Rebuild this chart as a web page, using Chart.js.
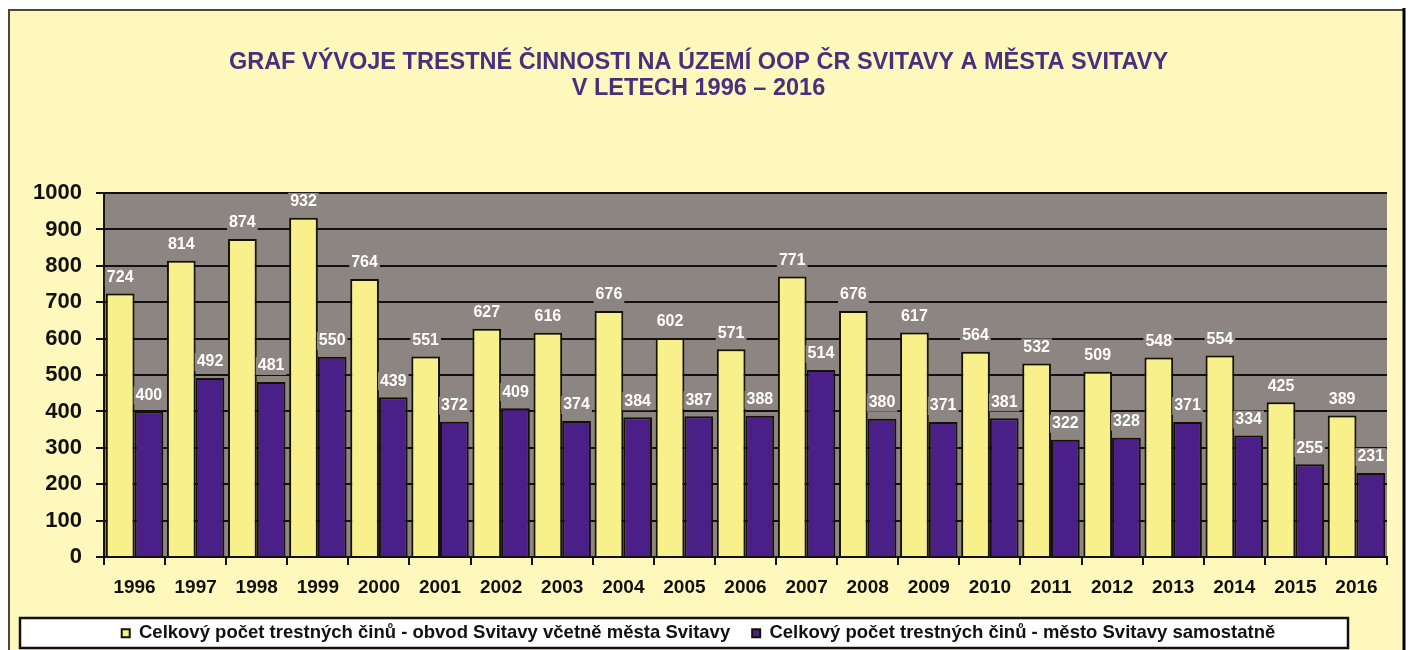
<!DOCTYPE html>
<html>
<head>
<meta charset="utf-8">
<script src="https://cdn.jsdelivr.net/npm/chart.js@4.4.0/dist/chart.umd.min.js"></script>
<style>
    html, body { margin: 0; padding: 0; background: #ffffff; }
    #wrap { width: 1411px; height: 650px; }
</style>
</head>
<body>
<div id="wrap"><canvas id="crimeChart"></canvas></div>
<script>
const years = ['1996', '1997', '1998', '1999', '2000', '2001', '2002', '2003', '2004', '2005', '2006',
    '2007', '2008', '2009', '2010', '2011', '2012', '2013', '2014', '2015', '2016'];
const obvodTotal = [724, 814, 874, 932, 764, 551, 627, 616, 676, 602, 571, 771, 676, 617, 564, 532, 509, 548, 554, 425, 389];
const mestoTotal = [400, 492, 481, 550, 439, 372, 409, 374, 384, 387, 388, 514, 380, 371, 381, 322, 328, 371, 334, 255, 231];
const yTicks = [0, 100, 200, 300, 400, 500, 600, 700, 800, 900, 1000];

const titleLines = ['GRAF VÝVOJE TRESTNÉ ČINNOSTI NA ÚZEMÍ OOP ČR SVITAVY A MĚSTA SVITAVY', 'V LETECH 1996 – 2016'];
const seriesNames = ['Celkový počet trestných činů - obvod Svitavy včetně města Svitavy',
    'Celkový počet trestných činů - město Svitavy samostatně'];

const plotGray = '#8d8581';
const fontFamily = '"Liberation Sans", Arial, sans-serif';

// page frame, plot background, legend box
const backdrop = {
    id: 'backdrop',
    beforeDraw(chart) {
        const c = chart.ctx, a = chart.chartArea;
        c.save();
        c.fillStyle = '#ffffff';
        c.fillRect(0, 0, chart.width, chart.height);
        c.fillStyle = '#fef8bd';
        c.fillRect(9, 10, 1395, chart.height - 10);
        c.strokeStyle = '#4d4733';
        c.lineWidth = 2;
        c.beginPath();
        c.moveTo(9, chart.height);
        c.lineTo(9, 10);
        c.lineTo(1404, 10);
        c.stroke();
        c.strokeStyle = '#000';
        c.lineWidth = 3;
        c.beginPath();
        c.moveTo(1404, 8);
        c.lineTo(1404, chart.height);
        c.stroke();
        c.fillStyle = plotGray;
        c.fillRect(a.left, a.top, a.right - a.left, a.bottom - a.top);
        c.fillStyle = '#ffffff';
        c.fillRect(20, 618, 1328, 30);
        c.strokeStyle = '#111';
        c.lineWidth = 2.5;
        c.strokeRect(20, 618, 1328, 30);
        c.restore();
    }
};

// value labels above bars
const valueLabels = {
    id: 'valueLabels',
    afterDatasetsDraw(chart) {
        const c = chart.ctx;
        c.save();
        c.font = 'bold 16px ' + fontFamily;
        c.textAlign = 'center';
        c.textBaseline = 'middle';
        chart.data.datasets.forEach((ds, i) => {
            chart.getDatasetMeta(i).data.forEach((bar, j) => {
                const txt = String(ds.data[j]);
                const w = c.measureText(txt).width;
                const y = bar.y - 16;
                c.fillStyle = plotGray;
                c.fillRect(bar.x - w / 2 - 2, y - 9, w + 4, 18);
                c.fillStyle = '#ffffff';
                c.fillText(txt, bar.x, y);
            });
        });
        c.restore();
    }
};

const ctx = document.getElementById('crimeChart').getContext('2d');
new Chart(ctx, {
    type: 'bar',
    data: {
        labels: years,
        datasets: [{
            label: seriesNames[0],
            data: obvodTotal,
            backgroundColor: '#f8f08a',
            borderColor: '#141200',
            borderWidth: 2,
            categoryPercentage: 0.94,
            barPercentage: 1.0
        }, {
            label: seriesNames[1],
            data: mestoTotal,
            backgroundColor: '#4a1f88',
            borderColor: '#141200',
            borderWidth: 2,
            categoryPercentage: 0.94,
            barPercentage: 1.0
        }]
    },
    options: {
        responsive: true,
        maintainAspectRatio: false,
        animation: false,
        layout: {
            padding: { left: 10, right: 24, top: 36, bottom: 0 }
        },
        scales: {
            x: {
                grid: { drawOnChartArea: false, drawTicks: true, tickLength: 8, color: '#111', lineWidth: 2 },
                border: { color: '#111', width: 2 },
                ticks: {
                    color: '#111',
                    padding: 11,
                    font: { family: fontFamily, size: 19, weight: 'bold' }
                },
                afterFit(scale) { scale.height = 45; }
            },
            y: {
                min: 0,
                max: 1000,
                afterBuildTicks(scale) { scale.ticks = yTicks.map(v => ({ value: v })); },
                grid: { color: '#111', lineWidth: 2, tickLength: 8 },
                border: { color: '#111', width: 2 },
                ticks: {
                    color: '#111',
                    padding: 14,
                    callback: v => String(v),
                    font: { family: fontFamily, size: 22, weight: 'bold' }
                },
                afterFit(scale) { scale.width = 94; }
            }
        },
        plugins: {
            title: {
                display: true,
                text: titleLines,
                color: '#4b2f7f',
                font: { family: fontFamily, size: 23.5, weight: 'bold', lineHeight: 1.13 },
                padding: { top: 13, bottom: 91 }
            },
            legend: {
                position: 'bottom',
                maxHeight: 48,
                labels: {
                    color: '#111',
                    boxWidth: 8,
                    boxHeight: 8,
                    padding: 22,
                    font: { family: fontFamily, size: 18.5, weight: 'bold' }
                }
            },
            tooltip: { enabled: false }
        }
    },
    plugins: [backdrop, valueLabels]
});
</script>
</body>
</html>
